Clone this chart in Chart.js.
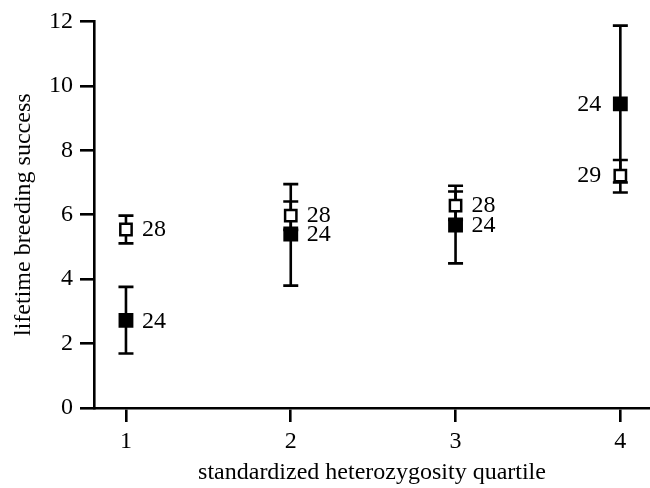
<!DOCTYPE html>
<html>
<head>
<meta charset="utf-8">
<script src="https://cdn.jsdelivr.net/npm/chart.js@4/dist/chart.umd.min.js"></script>
<style>
  body { margin: 0; background: #fff; }
  #wrap { width: 650px; height: 488px; }
</style>
</head>
<body>
<div id="wrap"><canvas id="chart" width="650" height="488"></canvas></div>
<script>
// quartiles of standardized heterozygosity
const quartiles = [1, 2, 3, 4];
const yTicks = [0, 2, 4, 6, 8, 10, 12];

// filled squares
const filledMean = [2.72, 5.40, 5.68, 9.44];
const filledLow = [1.69, 3.80, 4.49, 7.00];
const filledHigh = [3.76, 6.95, 6.90, 11.87];
const filledN = ['24', '24', '24', '24'];

// open squares
const openMean = [5.54, 5.97, 6.28, 7.21];
const openLow = [5.11, 5.53, 5.84, 6.69];
const openHigh = [5.97, 6.41, 6.72, 7.70];
const openN = ['28', '28', '28', '29'];

const FONT = '"Liberation Serif", "Times New Roman", serif';

// Draw the whiskers with caps under the squares
const errorBars = {
  id: 'errorBars',
  beforeDatasetsDraw(chart) {
    const { ctx, scales: { x, y } } = chart;
    ctx.save();
    ctx.strokeStyle = '#000';
    ctx.lineWidth = 2.6;
    const draw = (lo, hi) => {
      quartiles.forEach((q, i) => {
        const px = x.getPixelForValue(q);
        const top = y.getPixelForValue(hi[i]);
        const bot = y.getPixelForValue(lo[i]);
        ctx.beginPath();
        ctx.moveTo(px, top);
        ctx.lineTo(px, bot);
        ctx.moveTo(px - 7.5, top);
        ctx.lineTo(px + 7.5, top);
        ctx.moveTo(px - 7.5, bot);
        ctx.lineTo(px + 7.5, bot);
        ctx.stroke();
      });
    };
    draw(filledLow, filledHigh);
    draw(openLow, openHigh);
    ctx.restore();
  }
};

// Sample size next to each square (left side for the last quartile)
const sampleLabels = {
  id: 'sampleLabels',
  afterDatasetsDraw(chart) {
    const { ctx, scales: { x, y } } = chart;
    ctx.save();
    ctx.fillStyle = '#000';
    ctx.font = '24px ' + FONT;
    ctx.textBaseline = 'middle';
    const draw = (means, labels, dy) => {
      quartiles.forEach((q, i) => {
        const px = x.getPixelForValue(q);
        const py = y.getPixelForValue(means[i]);
        const left = i === quartiles.length - 1;
        ctx.textAlign = left ? 'right' : 'left';
        ctx.fillText(labels[i], left ? px - 19 : px + 16, py + dy);
      });
    };
    draw(filledMean, filledN, 1);
    draw(openMean, openN, 0);
    ctx.restore();
  }
};

new Chart(document.getElementById('chart'), {
  type: 'scatter',
  data: {
    datasets: [
      {
        label: 'filled',
        data: quartiles.map((q, i) => ({ x: q, y: filledMean[i] })),
        pointStyle: 'rect',
        pointRadius: 10.5,
        backgroundColor: '#000',
        borderColor: '#000',
        borderWidth: 0
      },
      {
        label: 'open',
        data: quartiles.map((q, i) => ({ x: q, y: openMean[i] })),
        pointStyle: 'rect',
        pointRadius: 8,
        backgroundColor: '#fff',
        borderColor: '#000',
        borderWidth: 2.5
      }
    ]
  },
  options: {
    responsive: false,
    animation: false,
    layout: { autoPadding: false, padding: { top: 20, right: 0, left: 0, bottom: 0 } },
    plugins: {
      legend: { display: false },
      tooltip: { enabled: false }
    },
    scales: {
      x: {
        type: 'linear',
        min: 0.806,
        max: 4.18,
        afterBuildTicks: scale => { scale.ticks = quartiles.map(v => ({ value: v })); },
        afterFit: scale => { scale.height = 80; },
        grid: { drawOnChartArea: false, drawTicks: true, tickLength: 14, lineWidth: 2.6, color: '#000' },
        border: { display: true, width: 2.6, color: '#000' },
        ticks: { color: '#000', padding: 5, font: { family: FONT, size: 24 } },
        title: {
          display: true,
          text: 'standardized heterozygosity quartile',
          color: '#000',
          font: { family: FONT, size: 24 },
          padding: { top: 0, bottom: 1 }
        }
      },
      y: {
        type: 'linear',
        min: 0,
        max: 12,
        afterBuildTicks: scale => { scale.ticks = yTicks.map(v => ({ value: v })); },
        afterFit: scale => { scale.width = 94; },
        grid: { drawOnChartArea: false, drawTicks: true, tickLength: 14, lineWidth: 2.6, color: '#000' },
        border: { display: true, width: 2.6, color: '#000' },
        ticks: { color: '#000', padding: 7, font: { family: FONT, size: 24 } },
        title: {
          display: true,
          text: 'lifetime breeding success',
          color: '#000',
          font: { family: FONT, size: 24 },
          padding: { top: 9, bottom: 0 }
        }
      }
    }
  },
  plugins: [errorBars, sampleLabels]
});
</script>
</body>
</html>
